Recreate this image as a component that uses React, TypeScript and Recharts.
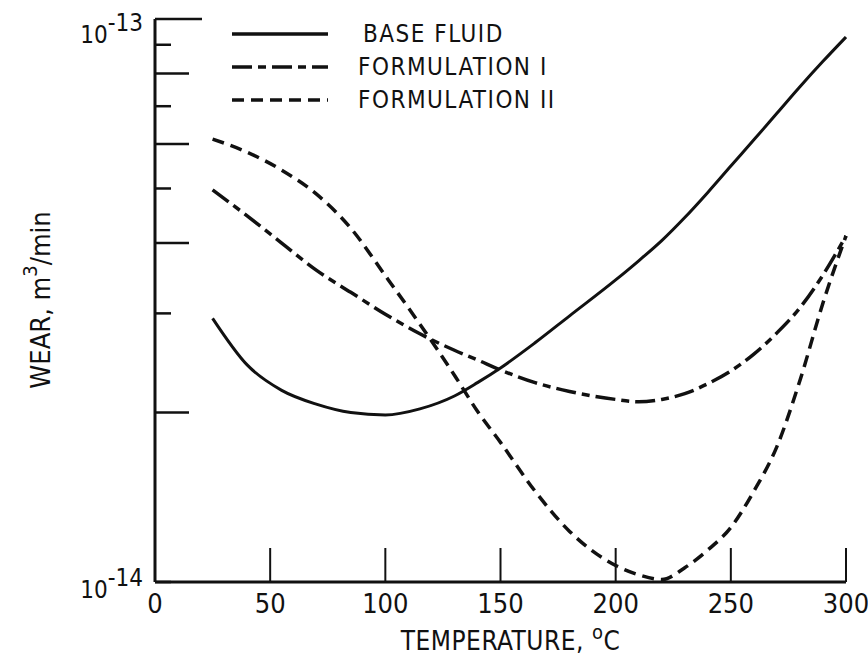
import { Legend, Line, LineChart, XAxis, YAxis } from 'recharts'

// wear rates, in units of 1e-14 m^3/min
const temperature = [25, 40, 55, 70, 85, 100, 115, 130, 140, 150, 165, 180, 200, 210, 220, 230, 240, 250, 260, 270, 280, 290, 300]
const baseFluid = [2.94, 2.43, 2.19, 2.07, 2.0, 1.98, 2.03, 2.14, 2.26, 2.4, 2.66, 2.97, 3.44, 3.72, 4.04, 4.44, 4.92, 5.48, 6.1, 6.8, 7.58, 8.41, 9.29]
const formulationI = [4.97, 4.47, 4.0, 3.58, 3.27, 2.99, 2.76, 2.58, 2.48, 2.38, 2.26, 2.18, 2.11, 2.09, 2.11, 2.16, 2.25, 2.37, 2.54, 2.77, 3.07, 3.51, 4.12]
const formulationII = [6.12, 5.8, 5.39, 4.89, 4.25, 3.5, 2.87, 2.33, 2.01, 1.77, 1.45, 1.23, 1.07, 1.03, 1.01, 1.06, 1.14, 1.25, 1.45, 1.74, 2.28, 3.13, 4.12]

const xTicks = [0, 50, 100, 150, 200, 250, 300]
const yTicks = [1, 2, 3, 4, 5, 6, 7, 8, 9, 10]
const yTickExponent: Record<number, string> = { 1: '-14', 10: '-13' }

const data = temperature.map((t, i) => ({
  t,
  base: baseFluid[i],
  f1: formulationI[i],
  f2: formulationII[i],
}))

const FONT = "'Liberation Sans Narrow', 'DejaVu Sans Condensed', 'Liberation Sans', sans-serif"
const INK = '#111'

const dashes: Record<string, string | undefined> = {
  base: undefined,
  f1: '20 6 8 6',
  f2: '12 7',
}

function TempTick({ x, y, payload }: any) {
  return (
    <g>
      {payload.value !== 0 && <line x1={x} x2={x} y1={y} y2={y - 34} stroke={INK} strokeWidth={2} />}
      <text x={x} y={y + 31} textAnchor="middle" fontFamily={FONT} fontSize={27} fill={INK}>
        {payload.value}
      </text>
    </g>
  )
}

function WearTick({ x, y, payload }: any) {
  const v = payload.value
  const len = v === 10 ? 47 : v % 2 === 0 ? 34 : 16
  const exp = yTickExponent[v]
  return (
    <g>
      <line x1={x} x2={x + len} y1={y} y2={y} stroke={INK} strokeWidth={2.5} />
      {exp && (
        <text x={x - 12} y={v === 10 ? y + 24 : y + 16} textAnchor="end" fontFamily={FONT} fontSize={24} fill={INK}>
          <tspan>10</tspan>
          <tspan dy={-12}>{exp}</tspan>
        </text>
      )}
    </g>
  )
}

function XTitle({ viewBox }: any) {
  const cx = viewBox.x + viewBox.width / 2 + 10
  return (
    <text x={cx} y={viewBox.y + 68} textAnchor="middle" fontFamily={FONT} fontSize={26} fill={INK} letterSpacing={0.5}>
      TEMPERATURE,{'  '}
      <tspan dy={-11} fontSize={20}>o</tspan>
      <tspan dy={11}>C</tspan>
    </text>
  )
}

function YTitle() {
  const cx = 40
  const cy = 300
  return (
    <text
      x={cx}
      y={cy}
      textAnchor="middle"
      dominantBaseline="central"
      transform={`rotate(-90 ${cx} ${cy})`}
      fontFamily={FONT}
      fontSize={27}
      fill={INK}
    >
      WEAR,{'  '}m
      <tspan dy={-10} fontSize={20}>3</tspan>
      <tspan dy={10}>/min</tspan>
    </text>
  )
}

function LegendBox({ payload }: any) {
  return (
    <div style={{ fontFamily: FONT, color: INK }}>
      {(payload || []).map((entry: any) => (
        <div key={entry.dataKey} style={{ display: 'flex', alignItems: 'center', height: 33 }}>
          <svg width={96} height={10} style={{ display: 'block' }}>
            <line x1={0} x2={96} y1={5} y2={5} stroke={INK} strokeWidth={3.5} strokeDasharray={dashes[entry.dataKey]} />
          </svg>
          <span style={{ marginLeft: entry.dataKey === 'base' ? 35 : 30, fontSize: 24, letterSpacing: 1.5, whiteSpace: 'nowrap' }}>
            {entry.value}
          </span>
        </div>
      ))}
    </div>
  )
}

export default function App() {
  return (
    <div style={{ position: 'absolute', left: 0, top: 0, background: '#fff' }}>
      <LineChart width={868} height={662} data={data} margin={{ top: 19, right: 22, left: 0, bottom: 0 }}>
        <XAxis
          dataKey="t"
          type="number"
          domain={[0, 300]}
          ticks={xTicks}
          interval={0}
          height={80}
          tickSize={0}
          tickMargin={0}
          tickLine={false}
          axisLine={{ stroke: INK, strokeWidth: 3 }}
          tick={<TempTick />}
          label={<XTitle />}
        />
        <YAxis
          scale="log"
          domain={[1, 10]}
          ticks={yTicks}
          interval={0}
          allowDataOverflow
          width={155}
          tickSize={0}
          tickMargin={0}
          tickLine={false}
          axisLine={{ stroke: INK, strokeWidth: 3 }}
          tick={<WearTick />}
          label={<YTitle />}
        />
        <Legend
          layout="horizontal"
          verticalAlign="middle"
          align="center"
          content={<LegendBox />}
          wrapperStyle={{ left: 232, top: 17, width: 360 }}
        />
        <Line dataKey="base" name="BASE FLUID" type="monotone" stroke={INK} strokeWidth={3} dot={false} isAnimationActive={false} />
        <Line dataKey="f1" name="FORMULATION I" type="monotone" stroke={INK} strokeWidth={3.5} strokeDasharray={dashes.f1} dot={false} isAnimationActive={false} />
        <Line dataKey="f2" name="FORMULATION II" type="monotone" stroke={INK} strokeWidth={3.5} strokeDasharray={dashes.f2} dot={false} isAnimationActive={false} />
      </LineChart>
    </div>
  )
}
